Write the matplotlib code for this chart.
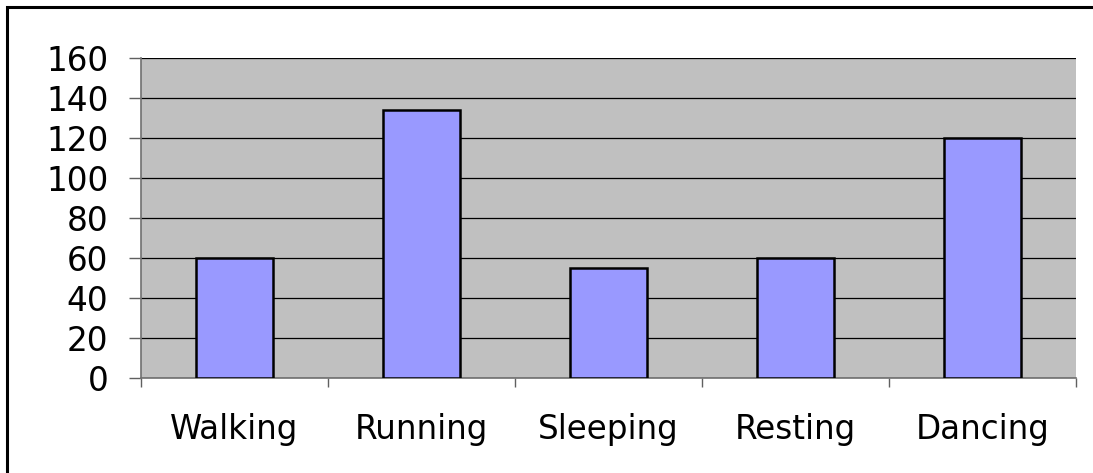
import matplotlib
matplotlib.use("Agg")
import matplotlib.pyplot as plt
from matplotlib.patches import Rectangle
from matplotlib.ticker import FixedLocator, NullFormatter
import numpy as np

categories = ["Walking", "Running", "Sleeping", "Resting", "Dancing"]
values = [60, 134, 55, 60, 120]
y_ticks = [0, 20, 40, 60, 80, 100, 120, 140, 160]

# the original text is a wide, stretched Arial; DejaVu Sans comes closest
plt.rcParams['font.family'] = ['DejaVu Sans']

fig = plt.figure(figsize=(10.93, 4.73), dpi=100)
fig.patch.set_facecolor("white")

# outer frame (runs past the right and bottom edges, like the original)
W, H = 1093.0, 473.0
fig.patches.append(Rectangle((6.5 / W, -0.1), 1.2, (H - 7.5) / H + 0.1,
                             transform=fig.transFigure, fill=False,
                             edgecolor="black", linewidth=2.2))

ax = fig.add_axes([141 / W, 1 - 378 / H, (1076 - 141) / W, (378 - 58.3) / H])
ax.set_facecolor("#c0c0c0")

x = np.arange(len(categories))
ax.bar(x, values, width=0.41, color="#9999ff", edgecolor="black",
       linewidth=1.8, zorder=3)

ax.set_xlim(-0.5, len(categories) - 0.5)
ax.set_ylim(0, 160)
ax.set_yticks(y_ticks)
ax.set_yticklabels([str(t) for t in y_ticks], fontsize=23.5)
ax.yaxis.grid(True, color="black", linewidth=0.9, zorder=1)
ax.set_axisbelow(True)

# category ticks at the boundaries, labels centred between them
ax.xaxis.set_major_locator(FixedLocator(np.arange(-0.5, len(categories), 1.0)))
ax.xaxis.set_major_formatter(NullFormatter())
ax.xaxis.set_minor_locator(FixedLocator(x))
ax.set_xticklabels(categories, minor=True, fontsize=23.5)
ax.tick_params(axis="x", which="major", direction="out", length=6.5,
               width=1, color="#606060")
ax.tick_params(axis="x", which="minor", length=0, pad=25)
ax.tick_params(axis="y", direction="out", length=8.5, width=1,
               color="#606060", pad=15)

for side in ["top", "right"]:
    ax.spines[side].set_visible(False)
for side in ["left", "bottom"]:
    ax.spines[side].set_color("#707070")
    ax.spines[side].set_linewidth(1.2)

fig.savefig("out.png", dpi=100)
